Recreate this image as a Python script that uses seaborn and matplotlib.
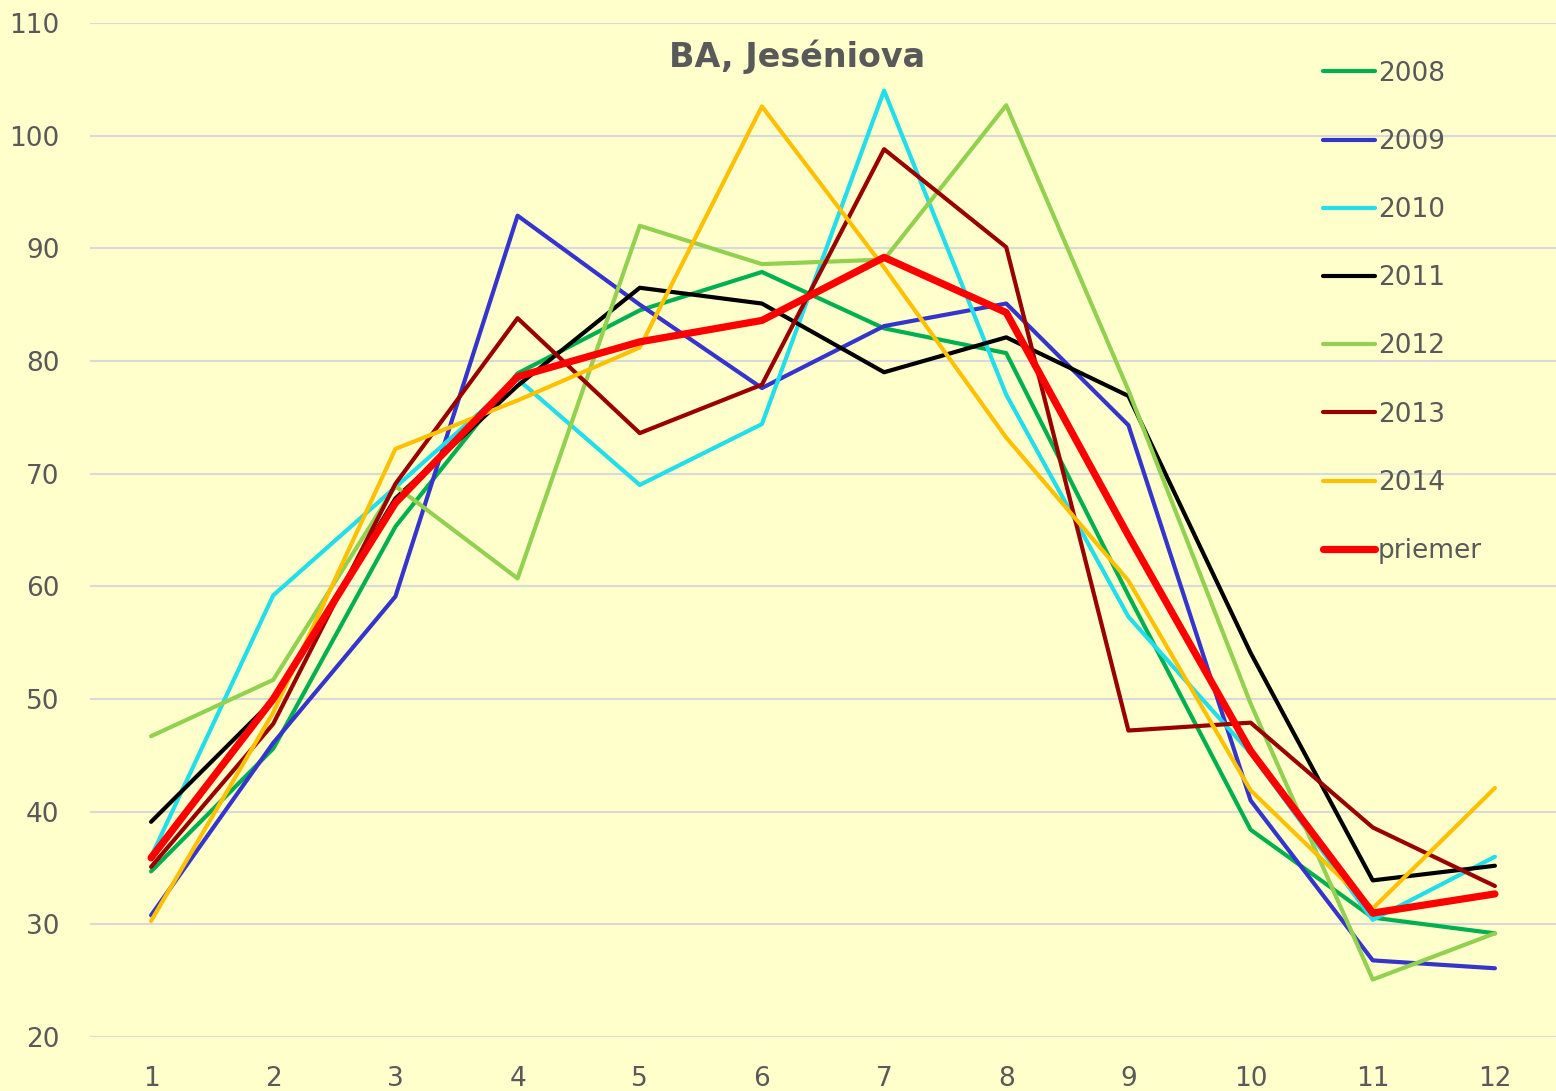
import pandas as pd
import matplotlib.pyplot as plt
import seaborn as sns

# mesiace
months = list(range(1, 13))

y2008 = [34.7, 45.6, 65.3, 78.9, 84.5, 87.9, 82.9, 80.7, 59.2, 38.4, 30.6, 29.2]
y2009 = [30.8, 46.1, 59.1, 92.9, 85.0, 77.6, 83.1, 85.1, 74.3, 41.0, 26.8, 26.1]
y2010 = [36.0, 59.2, 68.8, 78.4, 69.0, 74.4, 104.0, 77.0, 57.3, 45.2, 30.4, 36.0]
y2011 = [39.1, 49.9, 67.8, 77.8, 86.5, 85.1, 79.0, 82.1, 76.9, 54.1, 33.9, 35.2]
y2012 = [46.7, 51.7, 68.9, 60.7, 92.0, 88.6, 89.0, 102.7, 77.4, 49.6, 25.1, 29.2]
y2013 = [35.1, 47.8, 69.1, 83.8, 73.6, 77.9, 98.8, 90.1, 47.2, 47.9, 38.6, 33.4]
y2014 = [30.3, 48.8, 72.2, 76.5, 81.2, 102.6, 88.3, 73.2, 60.5, 41.9, 31.4, 42.1]
priemer = [35.9, 50.0, 67.4, 78.6, 81.7, 83.6, 89.2, 84.3, 64.5, 45.4, 31.0, 32.7]

series_names = ["2008", "2009", "2010", "2011", "2012", "2013", "2014", "priemer"]
series_values = [y2008, y2009, y2010, y2011, y2012, y2013, y2014, priemer]
colors = ["#00B050", "#3535CC", "#22DDEA", "#000000", "#92D050", "#990000", "#FFC000", "#FF0000"]

rows = []
for name, vals in zip(series_names, series_values):
    for m, v in zip(months, vals):
        rows.append({"mesiac": m, "hodnota": v, "rok": name})
df = pd.DataFrame(rows)

sns.set_style("white")
plt.rcParams["font.family"] = ["DejaVu Sans"]
text_col = "#595959"
bg = "#FFFFCC"

fig = plt.figure(figsize=(15.56, 10.91), dpi=100)
fig.patch.set_facecolor(bg)
ax = fig.add_axes([90 / 1556, 54 / 1091, 1 - 90 / 1556, (1037 - 23) / 1091])
ax.set_facecolor(bg)

for name, col in zip(series_names, colors):
    lw = 5.2 if name == "priemer" else 3.0
    sns.lineplot(data=df[df["rok"] == name], x="mesiac", y="hodnota", color=col,
                 linewidth=lw, label=name, ax=ax, solid_capstyle="round",
                 solid_joinstyle="round")

ax.set_xlim(0.5, 12.5)
ax.set_ylim(20, 110)
ax.set_xticks(months)
ax.set_yticks(range(20, 111, 10))
ax.yaxis.grid(True, color="#D9D9D9", linewidth=1.5)
ax.set_axisbelow(True)
for s in ax.spines.values():
    s.set_visible(False)
ax.tick_params(axis="both", length=0, labelsize=19, labelcolor=text_col)
ax.tick_params(axis="x", pad=21)
ax.tick_params(axis="y", pad=22)
ax.set_xlabel("")
ax.set_ylabel("")

ax.text(0.482, 0.967, "BA, Jeséniova", transform=ax.transAxes, ha="center", va="center",
        fontsize=24, fontweight="bold", color=text_col)

leg = ax.legend(loc="upper left", frameon=False, fontsize=19,
                handlelength=2.0, handletextpad=0.1, labelspacing=1.6,
                borderaxespad=0)
leg.set_bbox_to_anchor((1312 / 1556, 1 - 50 / 1091), transform=fig.transFigure)
for t in leg.get_texts():
    t.set_color(text_col)

plt.savefig("out.png", dpi=100, facecolor=bg)
